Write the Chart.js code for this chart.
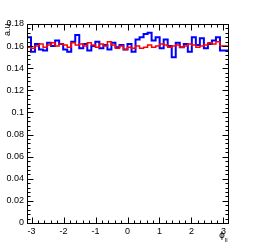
<!DOCTYPE html>
<html><head><meta charset="utf-8">
<style>html,body{margin:0;padding:0;background:#fff;}#wrap{width:267px;height:248px;}</style>
<script src="https://cdn.jsdelivr.net/npm/chart.js@4/dist/chart.umd.min.js"></script>
</head><body><div id="wrap"><canvas id="c" width="267" height="248"></canvas></div>
<script>
const xMin = -Math.PI, xMax = Math.PI;
const blueValues = [0.160,0.168,0.155,0.162,0.157,0.156,0.163,0.160,0.165,0.162,
  0.157,0.155,0.164,0.170,0.158,0.162,0.156,0.160,0.164,0.158,
  0.161,0.157,0.163,0.159,0.161,0.157,0.162,0.155,0.166,0.168,
  0.171,0.172,0.165,0.168,0.158,0.166,0.160,0.150,0.163,0.159,
  0.162,0.155,0.168,0.161,0.167,0.158,0.162,0.165,0.168,0.156];
const redValues = [0.161,0.159,0.158,0.160,0.162,0.159,0.161,0.163,0.160,0.162,
  0.161,0.159,0.163,0.161,0.162,0.160,0.163,0.161,0.159,0.162,
  0.160,0.164,0.161,0.158,0.160,0.157,0.159,0.158,0.160,0.158,
  0.159,0.161,0.159,0.160,0.162,0.161,0.159,0.160,0.161,0.159,
  0.160,0.162,0.161,0.159,0.160,0.161,0.163,0.162,0.164,0.160];
const xTickValues = [-3,-2,-1,0,1,2,3];
const xTickLabels = ["-3","-2","-1","0","1","2","3"];
const yTickValues = [0,0.02,0.04,0.06,0.08,0.1,0.12,0.14,0.16,0.18];
const yTickLabels = ["0","0.02","0.04","0.06","0.08","0.1","0.12","0.14","0.16","0.18"];
const yTitle = "a.u.";
const xTitle = "\u03d5";
const xTitleSub = "ll";

function histPoints(vals){
  const n = vals.length, w = (xMax - xMin)/n, pts = [];
  for (let i=0;i<n;i++) pts.push({x: xMin + i*w, y: vals[i]});
  pts.push({x: xMax, y: vals[n-1]});
  return pts;
}

const frame = {
  id:'frame',
  afterDatasetsDraw(chart){
    const ctx = chart.ctx, a = chart.chartArea, xs = chart.scales.x, ys = chart.scales.y;
    ctx.save();
    ctx.strokeStyle = '#000'; ctx.lineWidth = 1;
    const L = Math.round(a.left)+0.5, R = Math.round(a.right)+0.5, T = Math.round(a.top)+0.5, B = Math.round(a.bottom)+0.5;
    ctx.strokeRect(L, T, R-L, B-T);
    ctx.beginPath();
    for (let v = -3.0; v <= 3.0001; v += 0.2) {
      const p = Math.round(xs.getPixelForValue(v))+0.5;
      const major = Math.abs(v - Math.round(v)) < 1e-6;
      const len = major ? 6 : 3;
      ctx.moveTo(p, B); ctx.lineTo(p, B-len);
      ctx.moveTo(p, T); ctx.lineTo(p, T+len);
    }
    for (let k = 0; k <= 45; k++) {
      const v = k*0.004;
      const p = Math.round(ys.getPixelForValue(v))+0.5;
      const len = (k%5===0) ? 6 : 3;
      ctx.moveTo(L, p); ctx.lineTo(L+len, p);
      ctx.moveTo(R, p); ctx.lineTo(R-len, p);
    }
    ctx.stroke();
    ctx.fillStyle = '#000';
    ctx.font = '9px "Liberation Sans", Arial, sans-serif';
    ctx.save();
    ctx.translate(10, 21);
    ctx.rotate(-Math.PI/2);
    ctx.textAlign = 'right'; ctx.textBaseline = 'alphabetic';
    ctx.fillText(yTitle, 0, 0);
    ctx.restore();
    ctx.font = '9px "DejaVu Sans", sans-serif';
    ctx.textAlign = 'left'; ctx.textBaseline = 'alphabetic';
    ctx.fillText(xTitle, 219, 238);
    ctx.font = '6px "Liberation Sans", Arial, sans-serif';
    ctx.fillText(xTitleSub, 225, 242);
    ctx.restore();
  }
};

new Chart(document.getElementById('c'), {
  type: 'line',
  data: { datasets: [
    { data: histPoints(redValues), borderColor: 'rgb(255,0,0)', borderWidth: 1.5, stepped: 'after', pointRadius: 0, fill: false, order: 0 },
    { data: histPoints(blueValues), borderColor: 'rgb(0,0,255)', borderWidth: 2, stepped: 'after', pointRadius: 0, fill: false, order: 1 }
  ]},
  options: {
    responsive: false, animation: false, devicePixelRatio: 1,
    layout: { padding: { left: 0, right: 39, top: 24, bottom: 0 } },
    plugins: { legend: { display: false }, tooltip: { enabled: false } },
    scales: {
      x: { type: 'linear', min: xMin, max: xMax,
        grid: { display: false, drawTicks: false }, border: { display: false },
        afterBuildTicks(s){ s.ticks = xTickValues.map(v=>({value:v})); },
        afterFit(s){ s.height = 25; },
        ticks: { autoSkip: false, maxRotation: 0, padding: 3, color: '#000',
          font: { family: '"Liberation Sans", Arial, sans-serif', size: 9 },
          callback(v){ const i = xTickValues.indexOf(v); return i>=0 ? xTickLabels[i] : ''; } } },
      y: { type: 'linear', min: 0, max: 0.18,
        grid: { display: false, drawTicks: false }, border: { display: false },
        afterBuildTicks(s){ s.ticks = yTickValues.map(v=>({value:v})); },
        afterFit(s){ s.width = 27; },
        ticks: { autoSkip: false, padding: 3, color: '#000',
          font: { family: '"Liberation Sans", Arial, sans-serif', size: 9 },
          callback(v){ const i = yTickValues.findIndex(t=>Math.abs(t-v)<1e-9); return i>=0 ? yTickLabels[i] : ''; } } }
    }
  },
  plugins: [frame]
});
</script></body></html>
